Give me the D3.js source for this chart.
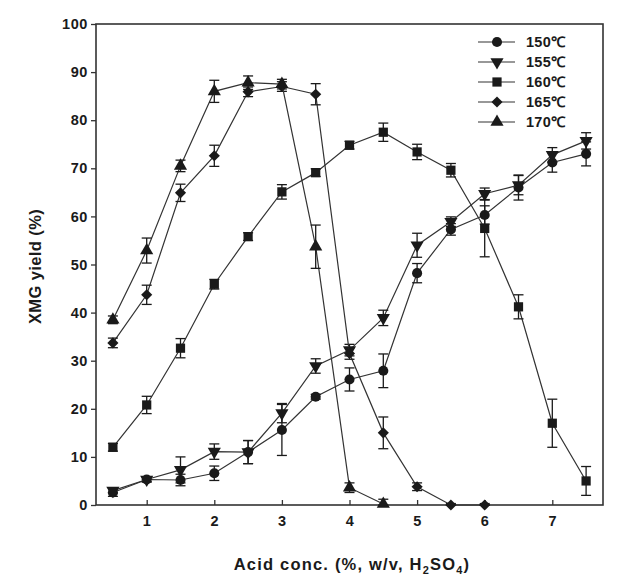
<!DOCTYPE html>
<html><head><meta charset="utf-8">
<script src="https://cdn.jsdelivr.net/npm/d3@7"></script>
<style>body{margin:0;background:#fff}svg{display:block}text{font-family:"Liberation Sans",Arial,sans-serif;font-weight:bold;fill:#1a1a1a}</style>
</head><body><svg id="c" width="642" height="587"></svg>
<script>
const xAll = [0.5,1,1.5,2,2.5,3,3.5,4,4.5,5,5.5,6,6.5,7,7.5];
const labels = ["150℃","155℃","160℃","165℃","170℃"];
const y150 = [2.6,5.3,5.2,6.6,11.0,15.6,22.5,26.1,27.9,48.2,57.3,60.3,66.0,71.2,73.0];
const e150 = [0.8,0.5,1.2,1.5,2.4,5.3,0.5,2.4,3.5,2.0,1.2,1.9,2.6,2.0,2.5];
const y155 = [3.0,5.3,7.3,11.1,11.0,19.1,28.9,32.2,38.9,54.0,58.9,64.7,66.5,72.8,75.7];
const e155 = [0.5,0.5,2.7,1.6,2.4,2.0,1.5,1.2,1.6,2.5,1.0,1.2,2.0,1.5,1.7];
const y160 = [12.0,20.8,32.6,45.9,55.8,65.1,69.1,74.8,77.5,73.4,69.6,57.5,41.2,17.0,5.0];
const e160 = [0.8,1.8,2.0,1.0,0.8,1.5,0.8,0.8,1.9,1.6,1.4,5.9,2.5,5.0,3.0];
const y165 = [33.7,43.7,64.9,72.6,85.9,87.0,85.4,31.5,15.0,3.8,0,0];
const e165 = [1.0,2.0,1.8,2.2,1.0,1.0,2.2,1.2,3.3,0.8,0.3,0.3];
const y170 = [38.5,52.9,70.5,86.0,87.8,87.5,53.7,3.6,0.2];
const e170 = [0.8,2.6,1.2,2.3,1.4,1.0,4.5,1.0,1.0];
const xTicks = [1,2,3,4,5,6,7];
const yTicks = [0,10,20,30,40,50,60,70,80,90,100];

const series = [
  {y:y150,e:e150,sym:d3.symbolCircle,size:80,rot:0},
  {y:y155,e:e155,sym:d3.symbolTriangle,size:75,rot:180},
  {y:y160,e:e160,sym:d3.symbolSquare,size:85,rot:0},
  {y:y165,e:e165,sym:d3.symbolSquare,size:62,rot:45},
  {y:y170,e:e170,sym:d3.symbolTriangle,size:75,rot:0}
];

const svg = d3.select("#c");
const L=96,R=603,T=24,B=505;
const x = d3.scaleLinear().domain([0.25,7.75]).range([L,R]);
const y = d3.scaleLinear().domain([0,100]).range([B,T]);
const ink="#1a1a1a";

svg.append("rect").attr("x",L).attr("y",T).attr("width",R-L).attr("height",B-T)
  .attr("fill","none").attr("stroke","#333").attr("stroke-width",1.6);

const ya = svg.append("g").attr("transform",`translate(${L},0)`)
  .call(d3.axisLeft(y).tickValues(yTicks).tickSize(5).tickPadding(3).tickFormat(d3.format("d")));
const xa = svg.append("g").attr("transform",`translate(0,${B})`)
  .call(d3.axisBottom(x).tickValues(xTicks).tickSize(-5).tickPadding(11).tickFormat(d3.format("d")));
[ya,xa].forEach(a=>{a.select(".domain").remove();
  a.selectAll(".tick line").attr("stroke","#333").attr("stroke-width",1.3);
  a.selectAll(".tick text").attr("font-size",14.5).attr("letter-spacing",0.6).attr("font-family",'"Liberation Sans",Arial,sans-serif').attr("font-weight","bold").attr("fill",ink);});

svg.append("text").attr("transform",`translate(41,${(T+B)/2+2}) rotate(-90)`).attr("text-anchor","middle")
  .attr("font-size",16.5).attr("letter-spacing",0.4).text("XMG yield (%)");
const xt = svg.append("text").attr("x",352).attr("y",570).attr("text-anchor","middle").attr("font-size",16.5).attr("letter-spacing",1.2);
xt.append("tspan").text("Acid conc. (%, w/v, H");
xt.append("tspan").attr("font-size",11).attr("dy",4).text("2");
xt.append("tspan").attr("dy",-4).text("SO");
xt.append("tspan").attr("font-size",11).attr("dy",4).text("4");
xt.append("tspan").attr("dy",-4).text(")");

const line = d3.line().x(d=>x(d[0])).y(d=>y(d[1]));
const cap=5;
series.forEach(s=>{
  const pts = s.y.map((v,i)=>[xAll[i],v,s.e[i]]);
  svg.append("path").datum(pts).attr("d",line).attr("fill","none").attr("stroke","#333").attr("stroke-width",1.2);
  const g = svg.append("g").attr("stroke",ink).attr("stroke-width",1.3);
  pts.forEach(p=>{
    const xx=x(p[0]), y1=y(p[1]+p[2]), y2=y(Math.max(0,p[1]-p[2]));
    g.append("line").attr("x1",xx).attr("x2",xx).attr("y1",y1).attr("y2",y2);
    g.append("line").attr("x1",xx-cap).attr("x2",xx+cap).attr("y1",y1).attr("y2",y1);
    g.append("line").attr("x1",xx-cap).attr("x2",xx+cap).attr("y1",y2).attr("y2",y2);
  });
  svg.append("g").selectAll("path").data(pts).join("path")
    .attr("d",d3.symbol().type(s.sym).size(s.size))
    .attr("transform",d=>`translate(${x(d[0])},${y(d[1])}) rotate(${s.rot})`)
    .attr("fill",ink);
});

const lg = svg.append("g");
series.forEach((s,i)=>{
  const yy = 42 + i*20;
  lg.append("line").attr("x1",478).attr("x2",515).attr("y1",yy).attr("y2",yy).attr("stroke","#333").attr("stroke-width",1.2);
  lg.append("path").attr("d",d3.symbol().type(s.sym).size(s.size)).attr("transform",`translate(497,${yy}) rotate(${s.rot})`).attr("fill",ink);
  lg.append("text").attr("x",526).attr("y",yy+5).attr("font-size",14.5).attr("letter-spacing",0.3).text(labels[i]);
});
</script></body></html>
